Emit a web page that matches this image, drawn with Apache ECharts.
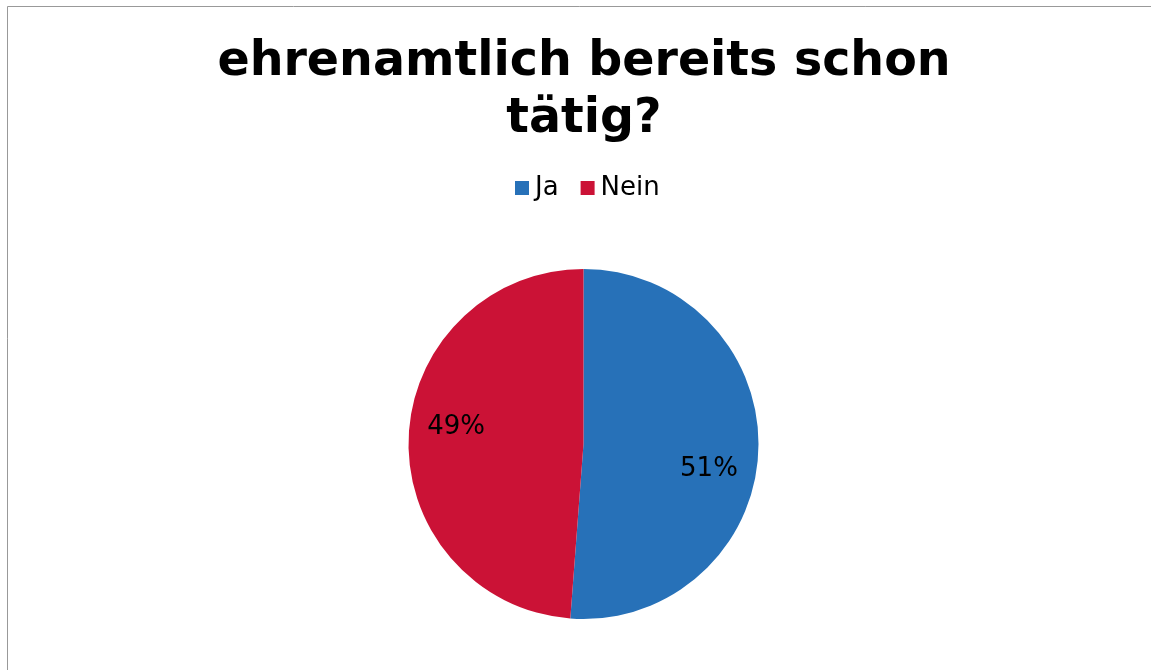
<!DOCTYPE html>
<html><head><meta charset="utf-8">
<script src="https://cdn.jsdelivr.net/npm/echarts@6/dist/echarts.min.js"></script>
<style>html,body{margin:0;padding:0;background:#fff}#c{width:1151px;height:670px}</style>
</head><body><div id="c"></div>
<script>
const titleText = 'ehrenamtlich bereits schon\ntätig?';
const categories = ['Ja', 'Nein'];
const values = [51.2, 48.8];
const colors = ['#2771B8', '#CB1236'];
// label nudges (style only), mimicking the best-fit placement of the original
const labelOffsets = [[35, 22], [-37, -13]];

const chart = echarts.init(document.getElementById('c'));
chart.setOption({
  animation: false,
  backgroundColor: '#fff',
  color: colors,
  title: {
    text: titleText,
    left: 579,
    textAlign: 'center',
    top: 29,
    textStyle: { fontFamily: 'DejaVu Sans', fontWeight: 'bold', fontSize: 47.5, lineHeight: 57, color: '#000' }
  },
  legend: {
    data: categories,
    top: 170,
    left: 510,
    icon: 'rect',
    itemWidth: 14,
    itemHeight: 14,
    itemGap: 22,
    textStyle: { fontFamily: 'DejaVu Sans', fontSize: 26, color: '#000', padding: [0,0,0,1] }
  },
  graphic: [
    { type: 'line', shape: { x1: 7.5, y1: 6.5, x2: 1151, y2: 6.5 }, style: { stroke: '#999', lineWidth: 1 } },
    { type: 'line', shape: { x1: 7.5, y1: 6.5, x2: 7.5, y2: 670 }, style: { stroke: '#999', lineWidth: 1 } }
  ],
  series: [{
    type: 'pie',
    center: [583.5, 444],
    radius: 175,
    startAngle: 90,
    clockwise: true,
    percentPrecision: 0,
    data: categories.map((c, i) => ({ name: c, value: values[i], label: { offset: labelOffsets[i] } })),
    label: {
      position: 'inside',
      formatter: '{d}%',
      fontFamily: 'DejaVu Sans',
      fontSize: 26,
      color: '#000'
    },
    labelLine: { show: false },
    itemStyle: { borderWidth: 0 },
    emphasis: { disabled: true }
  }]
});
</script></body></html>
